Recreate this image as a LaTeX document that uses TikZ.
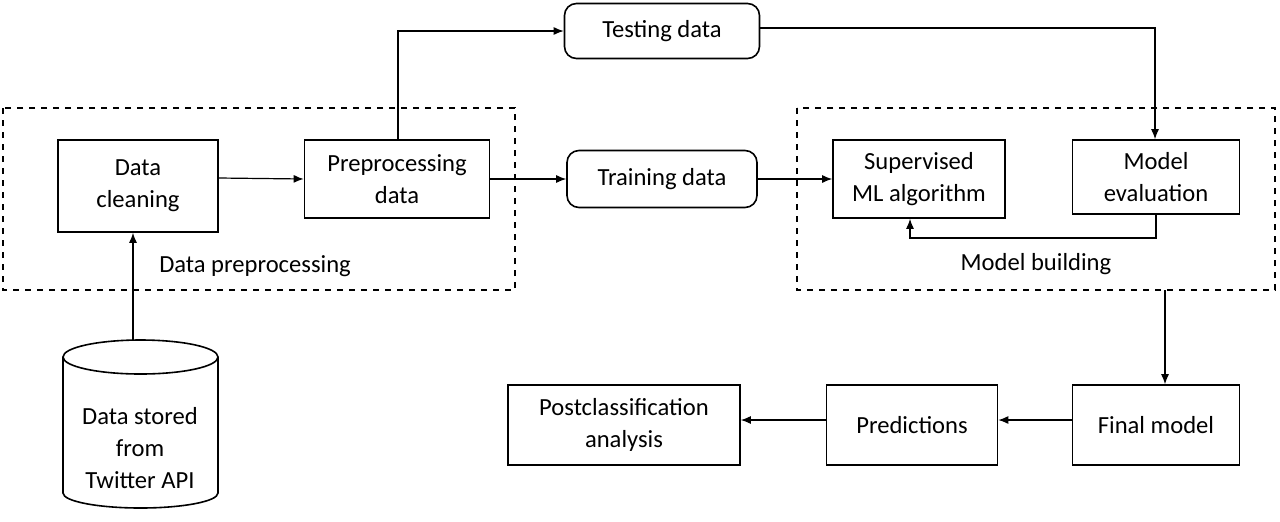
\documentclass[tikz,border=0pt]{standalone}
\usepackage{fontspec}
\setmainfont{Carlito}
\usetikzlibrary{arrows.meta,positioning}
\begin{document}
\begin{tikzpicture}[x=0.5pt,y=-0.5pt,
  font=\fontsize{12.3}{16}\selectfont,
  box/.style={draw,thick,align=center,inner sep=0pt},
  rbox/.style={box,rounded corners=6pt},
  dbox/.style={draw,thick,dashed},
  arr/.style={-{Latex[length=5pt,width=4pt]},semithick}]
\useasboundingbox (0,0) rectangle (1280,521);
\draw[dbox] (3,108) rectangle (515,290);
\draw[dbox] (797,108) rectangle (1275,290);
\node[rbox,minimum width=97.5pt,minimum height=27.5pt] (test) at (662,31) {Testing data};
\node[box,minimum width=80pt,minimum height=46pt] (clean) at (138,186) {Data\\cleaning};
\node[box,minimum width=92.5pt,minimum height=39pt] (prep) at (397,179) {Preprocessing\\data};
\node[rbox,minimum width=95pt,minimum height=28.5pt] (train) at (662,179) {Training data};
\node[box,minimum width=86pt,minimum height=39pt] (sup) at (919,179) {Supervised\\ML algorithm};
\node[box,minimum width=83.5pt,minimum height=37pt] (eval) at (1156,177) {Model\\evaluation};
\node (lp) at (255,266) {Data preprocessing};
\node (lm) at (1036,264) {Model building};
\node[box,minimum width=83.5pt,minimum height=40pt] (final) at (1156,425) {Final model};
\node[box,minimum width=85.5pt,minimum height=40pt] (pred) at (912,425) {Predictions};
\node[box,minimum width=116pt,minimum height=40pt] (post) at (624,425) {Postclassification\\analysis};
% cylinder
\draw[thick] (63,357) -- (63,493) arc[start angle=180,end angle=0,x radius=77.5,y radius=15] -- (218,357);
\draw[thick] (140.5,357) ellipse[x radius=77.5,y radius=17];
\node[align=center] (db) at (140,448) {Data stored\\from\\Twitter API};
\coordinate (dbtop) at (133,340);
\draw[arr] (dbtop) -- (clean.south -| dbtop);
\draw[arr] (clean.east |- prep.west) ++(0,-1) -- (prep.west);
\draw[arr] (prep.north -| 398,0) -- (398,31) -- (test.west);
\draw[arr] (prep.east) -- (train.west);
\draw[arr] (train.east) -- (sup.west);
\draw[arr] (test.east) ++(0,-3) -- (1155,28) -- (eval.north -| 1155,0);
\draw[arr] (eval.south -| 1156,0) -- (1156,238) -- (910,238) -- (sup.south -| 910,0);
\coordinate (mb) at (1165,290);
\draw[arr] (mb) -- (final.north -| mb);
\draw[arr] (final.west) ++(0,-5) -- (pred.east |- 0,420);
\draw[arr] (pred.west) ++(0,-5) -- (post.east |- 0,420);
\end{tikzpicture}
\end{document}
